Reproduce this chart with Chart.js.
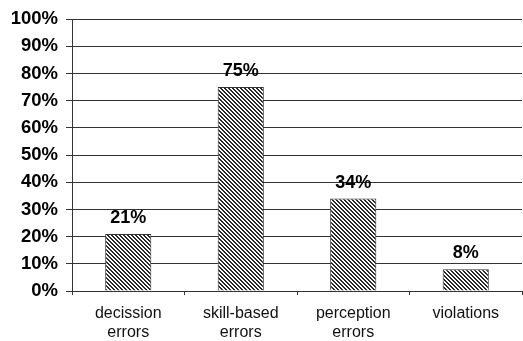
<!DOCTYPE html>
<html>
<head>
<meta charset="utf-8">
<script src="https://cdn.jsdelivr.net/npm/chart.js@4"></script>
<style>
    html, body { margin: 0; padding: 0; background: #fff; }
    canvas { display: block; }
</style>
</head>
<body>
<canvas id="chart" width="523" height="341"></canvas>
<script>
// chart data
const categories = [["decission", "errors"], ["skill-based", "errors"], ["perception", "errors"], "violations"];
const errorShare = [21, 75, 34, 8];
const yTicks = [0, 10, 20, 30, 40, 50, 60, 70, 80, 90, 100];

// diagonal hatch fill for the bars
function makeHatch() {
    const c = document.createElement("canvas");
    c.width = 4;
    c.height = 4;
    const g = c.getContext("2d");
    g.fillStyle = "#ffffff";
    g.fillRect(0, 0, 4, 4);
    g.fillStyle = "#2a2a2a";
    for (let i = 0; i < 4; i++) {
        g.fillRect(i, i, 1, 1);
        g.fillRect((i + 1) % 4, i, 1, 1);
    }
    return g.createPattern(c, "repeat");
}

// value labels above bars
const valueLabels = {
    id: "valueLabels",
    afterDatasetsDraw(chart) {
        const ctx = chart.ctx;
        const meta = chart.getDatasetMeta(0);
        ctx.save();
        ctx.font = "bold 18px 'Liberation Sans', Arial, sans-serif";
        ctx.fillStyle = "#000";
        ctx.textAlign = "center";
        ctx.textBaseline = "alphabetic";
        meta.data.forEach((bar, i) => {
            ctx.fillText(errorShare[i] + "%", bar.x, bar.y - 11);
        });
        ctx.restore();
    }
};

new Chart(document.getElementById("chart"), {
    type: "bar",
    data: {
        labels: categories,
        datasets: [{
            data: errorShare,
            backgroundColor: makeHatch(),
            borderColor: "#333",
            borderWidth: 1,
            categoryPercentage: 1,
            barPercentage: 0.41
        }]
    },
    plugins: [valueLabels],
    options: {
        responsive: false,
        devicePixelRatio: 1,
        animation: false,
        layout: { padding: { top: 19, right: 1, left: 0, bottom: 0 } },
        plugins: {
            legend: { display: false },
            tooltip: { enabled: false }
        },
        scales: {
            x: {
                offset: true,
                grid: {
                    offset: true,
                    drawOnChartArea: false,
                    drawTicks: true,
                    tickLength: 4,
                    color: "#333"
                },
                border: { color: "#333" },
                ticks: {
                    color: "#111",
                    padding: 9,
                    maxRotation: 0,
                    autoSkip: false,
                    font: { family: "'Liberation Sans', Arial, sans-serif", size: 16, lineHeight: 1.2 }
                },
                afterFit(scale) { scale.height = 50; }
            },
            y: {
                min: 0,
                max: 100,
                afterBuildTicks(scale) { scale.ticks = yTicks.map(v => ({ value: v })); },
                grid: {
                    color: "#333",
                    tickLength: 6
                },
                border: { color: "#333" },
                ticks: {
                    color: "#000",
                    padding: 8,
                    callback: v => v + "%",
                    font: { family: "'Liberation Sans', Arial, sans-serif", size: 18.5, weight: "bold" }
                },
                afterFit(scale) { scale.width = 72; }
            }
        }
    }
});
</script>
</body>
</html>
